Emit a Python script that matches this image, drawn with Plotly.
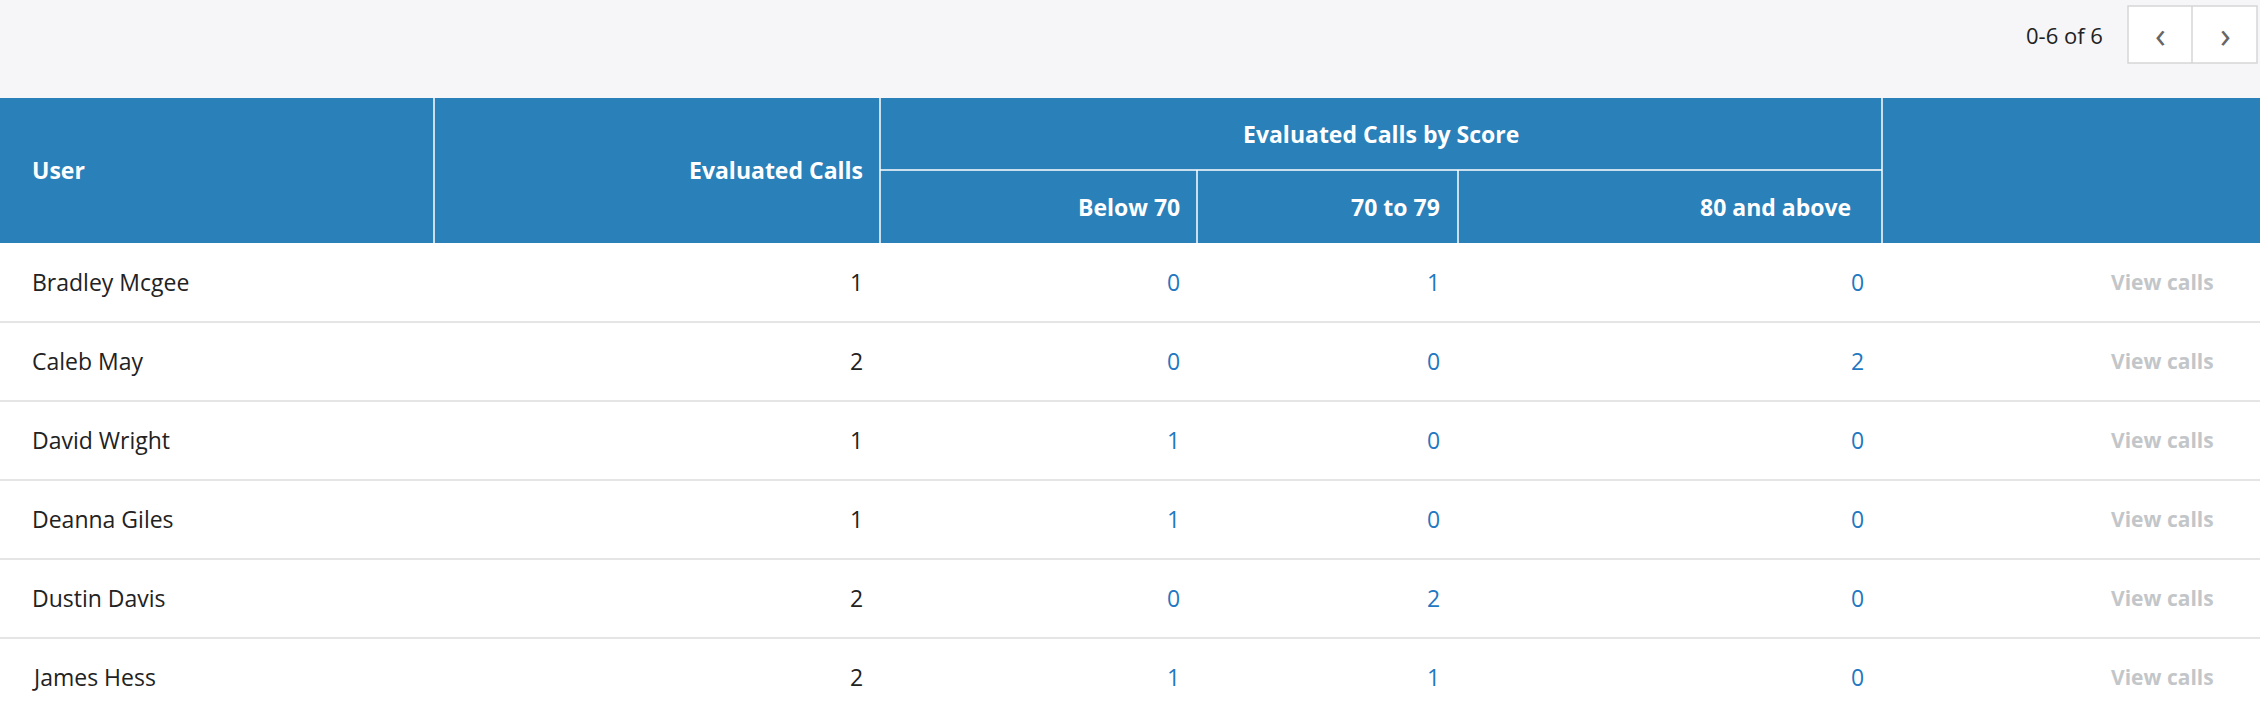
import plotly.graph_objects as go

users = ["Bradley Mcgee", "Caleb May", "David Wright", "Deanna Giles", "Dustin Davis", "James Hess"]
evaluated = [1, 2, 1, 1, 2, 2]
below_70 = [0, 0, 1, 1, 0, 1]
from_70_to_79 = [1, 0, 0, 0, 2, 1]
above_80 = [0, 2, 0, 0, 0, 0]
sub_headers = ["Below 70", "70 to 79", "80 and above"]
pager_text = "0-6 of 6"

W, H = 2260, 718
FONT = "Open Sans, Noto Sans, sans-serif"
BLUE = "#2a80b9"
LINK = "#1f78c1"
TEXT = "#222222"

top_h, head_mid, head_bot = 98, 170, 243

fig = go.Figure()
shapes = []
ann = []

def text(x, y, s, anchor="left", color=TEXT, bold=False, size=23):
    ann.append(dict(x=x, y=y, text=f"<b>{s}</b>" if bold else str(s), showarrow=False,
                    xanchor=anchor, yanchor="middle",
                    font=dict(family=FONT, size=size, color=color)))

# top toolbar
shapes.append(dict(type="rect", x0=0, x1=W, y0=0, y1=top_h, fillcolor="#f6f6f8", line_width=0, layer="below"))
text(2105, 35, pager_text, anchor="right", size=22)
shapes.append(dict(type="rect", x0=2128, x1=2257, y0=6, y1=63, fillcolor="white", line=dict(color="#d6d6d6", width=1.5)))
shapes.append(dict(type="line", x0=2192, x1=2192, y0=6, y1=63, line=dict(color="#d6d6d6", width=1.5)))
text(2160, 34, "‹", anchor="center", color="#666", size=36)
text(2225, 34, "›", anchor="center", color="#666", size=36)

# header
shapes.append(dict(type="rect", x0=0, x1=W, y0=top_h, y1=head_bot, fillcolor=BLUE, line_width=0, layer="below"))
for x in [434, 880, 1882]:
    shapes.append(dict(type="line", x0=x, x1=x, y0=top_h, y1=head_bot, line=dict(color="white", width=1.5)))
for x in [1197, 1458]:
    shapes.append(dict(type="line", x0=x, x1=x, y0=head_mid, y1=head_bot, line=dict(color="white", width=1.5)))
shapes.append(dict(type="line", x0=880, x1=1882, y0=head_mid, y1=head_mid, line=dict(color="white", width=1.5)))
text(30, 170, "User", color="white", bold=True)
text(865, 170, "Evaluated Calls", anchor="right", color="white", bold=True)
text(1381, 134, "Evaluated Calls by Score", anchor="center", color="white", bold=True)
for x, s in zip([1182, 1442, 1853], sub_headers):
    text(x, 207, s, anchor="right", color="white", bold=True)

# rows
for i, u in enumerate(users):
    y0 = head_bot + i * 79
    yc = y0 + 39
    if i > 0:
        shapes.append(dict(type="line", x0=0, x1=W, y0=y0, y1=y0, line=dict(color="#dddddd", width=1.5)))
    text(30, yc, u)
    text(865, yc, evaluated[i], anchor="right")
    text(1182, yc, below_70[i], anchor="right", color=LINK)
    text(1442, yc, from_70_to_79[i], anchor="right", color=LINK)
    text(1866, yc, above_80[i], anchor="right", color=LINK)
    text(2216, yc, "View calls", anchor="right", color="#c3c6c9", bold=True, size=21)

fig.update_layout(
    width=W, height=H, margin=dict(l=0, r=0, t=0, b=0),
    paper_bgcolor="white", plot_bgcolor="white",
    xaxis=dict(range=[0, W], visible=False, fixedrange=True),
    yaxis=dict(range=[H, 0], visible=False, fixedrange=True),
    shapes=shapes, annotations=ann, showlegend=False,
)
fig.write_html("out.html", config={"displayModeBar": False},
               post_script="document.body.style.margin='0';document.body.style.overflow='hidden';")
